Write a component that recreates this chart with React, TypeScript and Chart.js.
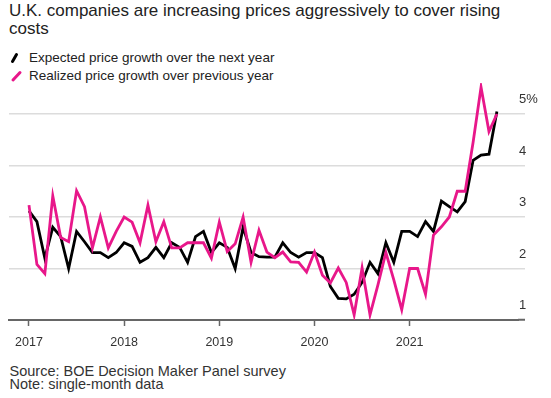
import React, { useEffect, useRef } from "react";
import { Chart, registerables } from "chart.js";

Chart.register(...registerables);

// ---- data (monthly, Jan 2017 – Dec 2021) ----
const startYear = 2017;
const yearTicks = [2017, 2018, 2019, 2020, 2021];
const yTickValues = [1, 2, 3, 4, 5];

const expected = [
  3.12, 2.91, 2.2, 2.8, 2.62, 2.0, 2.72, 2.52, 2.31, 2.31, 2.21, 2.31,
  2.5, 2.43, 2.12, 2.21, 2.41, 2.21, 2.5, 2.41, 2.12, 2.62, 2.72, 2.31,
  2.5, 2.41, 2.0, 2.8, 2.31, 2.23, 2.22, 2.22, 2.5, 2.31, 2.22, 2.31,
  2.31, 2.21, 1.65, 1.42, 1.41, 1.5, 1.73, 2.12, 1.9, 2.5, 2.12, 2.72,
  2.72, 2.62, 2.91, 2.72, 3.31, 3.2, 3.1, 3.3, 4.1, 4.2, 4.22, 5.05,
];

const realized = [
  3.23, 2.08, 1.9, 3.41, 2.6, 2.52, 3.51, 3.2, 2.4, 3.0, 2.4, 2.72,
  3.0, 2.9, 2.5, 3.23, 2.52, 2.91, 2.4, 2.4, 2.5, 2.5, 2.5, 2.2,
  2.9, 2.33, 2.48, 3.0, 2.12, 2.74, 2.32, 2.21, 2.32, 2.13, 2.12, 1.93,
  2.32, 1.87, 1.72, 2.01, 1.73, 1.1, 2.01, 1.1, 1.68, 2.31, 1.78, 1.2,
  2.0, 2.0, 1.5, 2.65, 2.81, 3.0, 3.5, 3.5, 4.45, 5.52, 4.66, 5.0,
];

const titleText = "U.K. companies are increasing prices aggressively to cover rising costs";
const expectedLabel = "Expected price growth over the next year";
const realizedLabel = "Realized price growth over previous year";
const sourceText = "Source: BOE Decision Maker Panel survey";
const noteText = "Note: single-month data";

const FONT = "'Liberation Sans', Arial, Helvetica, sans-serif";
const PINK = "#e8178a";
const BLACK = "#000000";
const GRID = "#dcdcdc";
const AXIS = "#666666";

export default function App() {
  const ref = useRef<HTMLCanvasElement>(null);

  useEffect(() => {
    const canvas = ref.current;
    if (!canvas) return;
    const chart = new Chart(canvas, {
      type: "line",
      data: {
        datasets: [
          {
            label: realizedLabel,
            data: realized.map((y, i) => ({ x: i, y })),
            borderColor: PINK,
            borderWidth: 2.8,
            pointRadius: 0,
            tension: 0,
            fill: false,
            order: 1,
          },
          {
            label: expectedLabel,
            data: expected.map((y, i) => ({ x: i, y })),
            borderColor: BLACK,
            borderWidth: 2.8,
            pointRadius: 0,
            tension: 0,
            fill: false,
            order: 2,
          },
        ],
      },
      options: {
        animation: false,
        responsive: false,
        devicePixelRatio: 1,
        layout: { padding: { left: 9, top: 3.1, right: 0, bottom: 0 } },
        plugins: {
          legend: { display: false },
          tooltip: { enabled: false },
          title: { display: false },
        },
        scales: {
          x: {
            type: "linear",
            min: -2.52,
            max: 61.66,
            afterBuildTicks: (s: any) => {
              s.ticks = yearTicks.map((y) => ({ value: (y - startYear) * 12 }));
            },
            afterFit: (s: any) => {
              s.height = 40;
            },
            ticks: {
              callback: (v: any) => String(startYear + Number(v) / 12),
              font: { family: FONT, size: 12.5 },
              color: "#333",
              padding: 9,
              maxRotation: 0,
              autoSkip: false,
            },
            grid: {
              drawOnChartArea: false,
              drawTicks: true,
              tickLength: 6,
              tickColor: AXIS,
              tickWidth: 1.5,
            },
            border: { display: true, color: AXIS, width: 2 },
          },
          y: {
            position: "right",
            min: 1,
            max: 5.6,
            afterBuildTicks: (s: any) => {
              s.ticks = yTickValues.map((v) => ({ value: v }));
            },
            afterFit: (s: any) => {
              s.width = 33;
            },
            ticks: {
              callback: (v: any) => (Number(v) === 5 ? "5%" : String(v)),
              font: { family: FONT, size: 13 },
              color: "#333",
              padding: -6,
              labelOffset: -14.5,
            },
            grid: {
              color: GRID,
              lineWidth: 1.5,
              drawTicks: true,
              tickLength: 7,
              tickColor: (c: any) => (c.tick && c.tick.value === 1 ? AXIS : GRID),
              tickWidth: (c: any) => (c.tick && c.tick.value === 1 ? 2 : 1.5),
            },
            border: { display: false },
          },
        },
      },
    } as any);
    return () => chart.destroy();
  }, []);

  const textBase: React.CSSProperties = {
    position: "absolute",
    fontFamily: FONT,
    whiteSpace: "nowrap",
    margin: 0,
  };

  return (
    <div
      style={{
        position: "absolute",
        left: 0,
        top: 0,
        width: 551,
        height: 398,
        background: "#fff",
        overflow: "hidden",
      }}
    >
      <div
        style={{
          ...textBase,
          whiteSpace: "normal",
          left: 9,
          top: 2.4,
          width: 515,
          fontSize: 17,
          lineHeight: "18px",
          color: "#222",
        }}
      >
        {titleText}
      </div>

      <svg
        width={30}
        height={40}
        style={{ position: "absolute", left: 0, top: 45 }}
      >
        <line x1={12.5} y1={16.5} x2={16.5} y2={9.5} stroke={BLACK} strokeWidth={3} strokeLinecap="round" />
        <line x1={13} y1={35} x2={20} y2={27.5} stroke={PINK} strokeWidth={3} strokeLinecap="round" />
      </svg>
      <div style={{ ...textBase, left: 29, top: 47.6, fontSize: 13.5, lineHeight: "20px", color: "#222" }}>
        {expectedLabel}
      </div>
      <div style={{ ...textBase, left: 29, top: 66.3, fontSize: 13.5, lineHeight: "20px", color: "#222" }}>
        {realizedLabel}
      </div>

      <canvas
        ref={ref}
        width={551}
        height={280}
        style={{ position: "absolute", left: 0, top: 80, width: 551, height: 280 }}
      />

      <div style={{ ...textBase, left: 9.5, top: 364.9, fontSize: 14.5, lineHeight: "13.5px", color: "#333" }}>
        {sourceText}
      </div>
      <div style={{ ...textBase, left: 9.5, top: 378.4, fontSize: 14.5, lineHeight: "13.5px", color: "#333" }}>
        {noteText}
      </div>
    </div>
  );
}
